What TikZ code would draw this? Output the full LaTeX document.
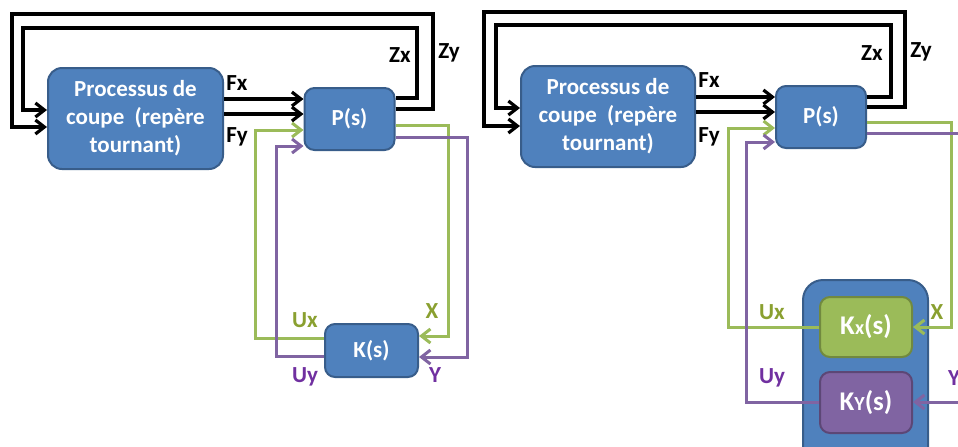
\documentclass[tikz,border=0pt]{standalone}
\usepackage{fontspec}
\setmainfont{Carlito}
\usetikzlibrary{arrows.meta}
\definecolor{boxblue}{RGB}{79,129,189}
\definecolor{boxedge}{RGB}{56,93,138}
\definecolor{sgreen}{RGB}{155,187,89}
\definecolor{sgreenedge}{RGB}{113,137,63}
\definecolor{tgreen}{RGB}{138,160,48}
\definecolor{spurple}{RGB}{128,100,162}
\definecolor{spurpleedge}{RGB}{92,71,118}
\definecolor{tpurple}{RGB}{112,48,160}
\begin{document}
\begin{tikzpicture}[x=0.5pt,y=-0.5pt,
  font=\fontsize{11.5}{14}\selectfont\bfseries,
  blkbox/.style={draw=boxedge,fill=boxblue,line width=1pt,rounded corners=5pt,
    text=white,align=center,inner sep=0pt},
  sig/.style={line width=1.6pt,-{Straight Barb[length=4.5pt,width=7pt]}},
  gline/.style={sig,draw=sgreen,line width=1.5pt},
  pline/.style={sig,draw=spurple,line width=1.5pt},
  glab/.style={text=tgreen},
  plab/.style={text=tpurple}]
\useasboundingbox (0,0) rectangle (958,446);
\clip (0,0) rectangle (958,446);

% left: one controller
\node[blkbox,minimum width=87.5pt,minimum height=50.5pt,rounded corners=7pt] (proc) at (135.5,118.5) {Processus de\\coupe\ \ (repère\\tournant)};
\node[blkbox,minimum width=45pt,minimum height=31pt] (P) at (349.5,119) {P(s)};
\node[blkbox,minimum width=46.5pt,minimum height=26.5pt] (K) at (371.5,350.5) {K(s)};

\draw[sig] (proc.east |- 0,99) -- (P.west |- 0,99);
\draw[sig] (proc.east |- 0,114) -- (P.west |- 0,114);
\draw[sig] (P.east |- 0,98) -| (417,28) -| (23,110) -- (proc.west |- 0,110);
\draw[sig] (P.east |- 0,109) -| (433,14) -| (12,127) -- (proc.west |- 0,127);
\draw[gline] (P.east |- 0,125) -| (448,336) -- (K.east |- 0,336);
\draw[gline] (K.west |- 0,338) -| (255,130) -- (P.west |- 0,130);
\draw[pline] (P.east |- 0,137) -| (467,357) -- (K.east |- 0,357);
\draw[pline] (K.west |- 0,356) -| (276,146) -- (P.west |- 0,146);

\node (fx) at (237,83) {Fx};
\node (fy) at (237,137) {Fy};
\node (zx) at (400,55) {Zx};
\node (zy) at (449,53) {Zy};
\node[glab] (ux) at (305,320) {Ux};
\node[glab] (xx) at (432,311) {X};
\node[plab] (uy) at (305,377) {Uy};
\node[plab] (yy) at (435,375) {Y};

% right: two controllers
\node[blkbox,minimum width=87pt,minimum height=50.5pt,rounded corners=7pt] (proc2) at (608,116.5) {Processus de\\coupe\ \ (repère\\tournant)};
\node[blkbox,minimum width=45pt,minimum height=31pt] (P2) at (821,117) {P(s)};
\node[blkbox,minimum width=62.5pt,minimum height=97.5pt,rounded corners=10pt] (ctl) at (865.5,377.5) {};
\node[blkbox,draw=sgreenedge,fill=sgreen,minimum width=46pt,minimum height=30pt,font=\fontsize{13.5}{14}\selectfont\bfseries] (Kx) at (866,327) {K{\fontsize{10}{10}\selectfont x}(s)};
\node[blkbox,draw=spurpleedge,fill=spurple,minimum width=46pt,minimum height=30.5pt,font=\fontsize{13.5}{14}\selectfont\bfseries] (Ky) at (866,402.5) {K{\fontsize{10}{10}\selectfont Y}(s)};

\draw[sig] (proc2.east |- 0,97) -- (P2.west |- 0,97);
\draw[sig] (proc2.east |- 0,112) -- (P2.west |- 0,112);
\draw[sig] (P2.east |- 0,97) -| (891,25) -| (496,108) -- (proc2.west |- 0,108);
\draw[sig] (P2.east |- 0,107) -| (905,12) -| (484,126) -- (proc2.west |- 0,126);
\draw[gline] (P2.east |- 0,122) -| (951,327) -- (Kx.east |- 0,327);
\draw[gline] (Kx.west |- 0,327) -| (728,128) -- (P2.west |- 0,128);
\draw[pline] (P2.east |- 0,133) -| (975,402) -- (Ky.east |- 0,402);
\draw[pline] (Ky.west |- 0,402) -| (746,142) -- (P2.west |- 0,142);

\node (fx2) at (709,80) {Fx};
\node (fy2) at (709,137) {Fy};
\node (zx2) at (872,53) {Zx};
\node (zy2) at (921,52) {Zy};
\node[glab] (ux2) at (772,312) {Ux};
\node[glab] (xx2) at (937,312) {X};
\node[plab] (uy2) at (772,378) {Uy};
\node[plab] (yy2) at (954,378) {Y};
\end{tikzpicture}
\end{document}
